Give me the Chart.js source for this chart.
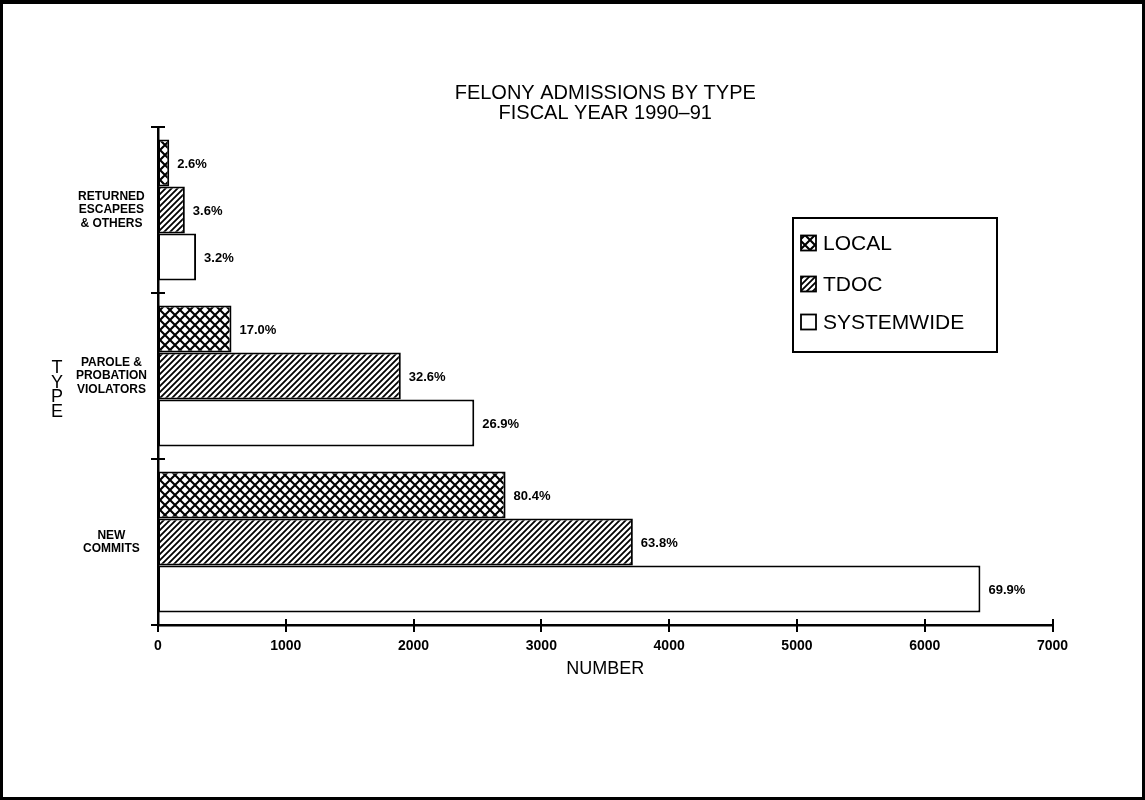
<!DOCTYPE html>
<html>
<head>
<meta charset="utf-8">
<title>Felony Admissions by Type, FY 1990-91</title>
<script src="https://cdn.jsdelivr.net/npm/chart.js@4/dist/chart.umd.min.js"></script>
<style>
  html, body { margin: 0; padding: 0; background: #fff; }
  canvas { display: block; }
</style>
</head>
<body>
<canvas id="chart" width="1145" height="800"></canvas>
<script>
// Admission types (top to bottom) and series
const categories = [
  ['RETURNED', 'ESCAPEES', '& OTHERS'],
  ['PAROLE &', 'PROBATION', 'VIOLATORS'],
  ['NEW', 'COMMITS']
];
const seriesNames = ['LOCAL', 'TDOC', 'SYSTEMWIDE'];

// Number of admissions per type
const localValues      = [88, 575, 2720];
const tdocValues       = [210, 1900, 3716];
const systemwideValues = [298, 2475, 6436];

// Share of each series' total, printed beside the bars
const localShares      = ['2.6%', '17.0%', '80.4%'];
const tdocShares       = ['3.6%', '32.6%', '63.8%'];
const systemwideShares = ['3.2%', '26.9%', '69.9%'];

// Horizontal axis
const numberTicks = [0, 1000, 2000, 3000, 4000, 5000, 6000, 7000];
const titleLines = ['FELONY ADMISSIONS BY TYPE', 'FISCAL YEAR 1990\u201391'];
const xAxisTitle = 'NUMBER';
const yAxisTitle = 'TYPE';

const FONT = "'Liberation Sans', Arial, Helvetica, sans-serif";
Chart.defaults.font.family = FONT;
Chart.defaults.color = '#000';

// Fill patterns
function crossHatch() {
  const c = document.createElement('canvas');
  c.width = 10; c.height = 10;
  const g = c.getContext('2d');
  g.fillStyle = '#fff'; g.fillRect(0, 0, 10, 10);
  g.strokeStyle = '#000'; g.lineWidth = 2.1;
  g.beginPath();
  g.moveTo(-1, -1); g.lineTo(11, 11);
  g.moveTo(-1, 11); g.lineTo(11, -1);
  g.stroke();
  return g.createPattern(c, 'repeat');
}
function diagonalHatch() {
  const s = 6;
  const c = document.createElement('canvas');
  c.width = s; c.height = s;
  const g = c.getContext('2d');
  g.fillStyle = '#fff'; g.fillRect(0, 0, s, s);
  g.strokeStyle = '#000'; g.lineWidth = 1.8;
  g.beginPath();
  g.moveTo(-1, s + 1); g.lineTo(s + 1, -1);
  g.moveTo(-1, 1); g.lineTo(1, -1);
  g.moveTo(s - 1, s + 1); g.lineTo(s + 1, s - 1);
  g.stroke();
  return g.createPattern(c, 'repeat');
}
const fills = [crossHatch(), diagonalHatch(), '#ffffff'];
const shareLabels = [localShares, tdocShares, systemwideShares];
const seriesValues = [localValues, tdocValues, systemwideValues];

// Outer frame of the page
const framePlugin = {
  id: 'frame',
  afterDraw(chart) {
    const ctx = chart.ctx;
    ctx.save();
    ctx.strokeStyle = '#000';
    ctx.lineWidth = 3;
    ctx.strokeRect(1.5, 1.5, chart.width - 3, chart.height - 3);
    ctx.fillStyle = '#000';
    ctx.fillRect(0, 0, chart.width, 4);
    ctx.restore();
  }
};

// Tick marks that cross the axis lines
const crossTicksPlugin = {
  id: 'crossTicks',
  afterDraw(chart) {
    const { ctx, chartArea: a } = chart;
    const xs = chart.scales.x, ys = chart.scales.y;
    ctx.save();
    ctx.strokeStyle = '#000';
    ctx.lineWidth = 2;
    ctx.beginPath();
    xs.ticks.forEach(t => {
      const px = Math.round(xs.getPixelForValue(t.value));
      ctx.moveTo(px, a.bottom - 6);
      ctx.lineTo(px, a.bottom + 7);
    });
    const step = ys.getPixelForValue(1) - ys.getPixelForValue(0);
    for (let i = 0; i < categories.length; i++) {
      const py = Math.round(ys.getPixelForValue(i) - step / 2);
      ctx.moveTo(a.left - 7, py);
      ctx.lineTo(a.left + 7, py);
    }
    ctx.moveTo(a.left - 7, a.bottom);
    ctx.lineTo(a.left, a.bottom);
    ctx.stroke();
    ctx.restore();
  }
};

// Percentage labels at the end of each bar
const shareLabelPlugin = {
  id: 'shareLabels',
  afterDatasetsDraw(chart) {
    const ctx = chart.ctx;
    ctx.save();
    ctx.fillStyle = '#000';
    ctx.font = 'bold 13px ' + FONT;
    ctx.textAlign = 'left';
    ctx.textBaseline = 'middle';
    chart.data.datasets.forEach((ds, di) => {
      chart.getDatasetMeta(di).data.forEach((bar, i) => {
        ctx.fillText(shareLabels[di][i], bar.x + 8, bar.y + 1);
      });
    });
    ctx.restore();
  }
};

// Stacked-letter title for the vertical axis
const yTitlePlugin = {
  id: 'yTitle',
  afterDraw(chart) {
    const ctx = chart.ctx;
    const letters = yAxisTitle.split('');
    const gap = 14.6;
    const cy = 390;
    ctx.save();
    ctx.fillStyle = '#000';
    ctx.font = '18px ' + FONT;
    ctx.textAlign = 'center';
    ctx.textBaseline = 'middle';
    letters.forEach((ch, i) => {
      ctx.fillText(ch, 57, cy + (i - (letters.length - 1) / 2) * gap);
    });
    ctx.restore();
  }
};

// Boxed legend inside the plot
const legendBoxPlugin = {
  id: 'legendBox',
  afterDraw(chart) {
    const ctx = chart.ctx;
    const box = { x: 793, y: 218, w: 204, h: 134 };
    const rows = [243, 284, 322];
    ctx.save();
    ctx.strokeStyle = '#000';
    ctx.lineWidth = 2;
    ctx.fillStyle = '#fff';
    ctx.fillRect(box.x, box.y, box.w, box.h);
    ctx.strokeRect(box.x, box.y, box.w, box.h);
    ctx.font = '21px ' + FONT;
    ctx.textAlign = 'left';
    ctx.textBaseline = 'middle';
    chart.data.datasets.forEach((ds, i) => {
      const cy = rows[i];
      ctx.fillStyle = ds.backgroundColor;
      ctx.fillRect(801, cy - 7.5, 15, 15);
      ctx.lineWidth = 1.8;
      ctx.strokeRect(801, cy - 7.5, 15, 15);
      ctx.fillStyle = '#000';
      ctx.fillText(ds.label, 823, cy + 1);
    });
    ctx.restore();
  }
};

new Chart(document.getElementById('chart'), {
  type: 'bar',
  data: {
    labels: categories,
    datasets: seriesNames.map((name, i) => ({
      label: name,
      data: seriesValues[i],
      backgroundColor: fills[i],
      borderColor: '#000',
      borderWidth: 2,
      borderSkipped: false,
      barPercentage: 1.0,
      categoryPercentage: 0.85
    }))
  },
  options: {
    indexAxis: 'y',
    responsive: false,
    animation: false,
    events: [],
    layout: { padding: { left: 10, right: 92.5, top: 72, bottom: 115 } },
    plugins: {
      legend: { display: false },
      tooltip: { enabled: false },
      title: {
        display: true,
        fullSize: false,
        text: titleLines,
        color: '#000',
        font: { family: FONT, size: 20, weight: 'normal', lineHeight: 1.0 },
        padding: { top: 11, bottom: 4 }
      }
    },
    scales: {
      x: {
        type: 'linear',
        position: 'bottom',
        min: numberTicks[0],
        max: numberTicks[numberTicks.length - 1],
        afterBuildTicks: s => { s.ticks = numberTicks.map(v => ({ value: v })); },
        afterFit: s => { s.height = 60; },
        grid: { display: false, drawTicks: false },
        border: { display: true, color: '#000', width: 2.5 },
        ticks: {
          padding: 13,
          maxRotation: 0,
          color: '#000',
          font: { family: FONT, size: 14, weight: 'bold' },
          callback: v => String(v)
        },
        title: {
          display: true,
          text: xAxisTitle,
          color: '#000',
          font: { family: FONT, size: 18, weight: 'normal' },
          padding: { top: 0, bottom: 5 }
        }
      },
      y: {
        type: 'category',
        afterFit: s => { s.width = 148; },
        grid: { display: false, drawTicks: false },
        border: { display: true, color: '#000', width: 2.5 },
        ticks: {
          crossAlign: 'center',
          padding: 11,
          autoSkip: false,
          color: '#000',
          font: { family: FONT, size: 12, weight: 'bold', lineHeight: 1.12 }
        }
      }
    }
  },
  plugins: [shareLabelPlugin, crossTicksPlugin, yTitlePlugin, legendBoxPlugin, framePlugin]
});
</script>
</body>
</html>
